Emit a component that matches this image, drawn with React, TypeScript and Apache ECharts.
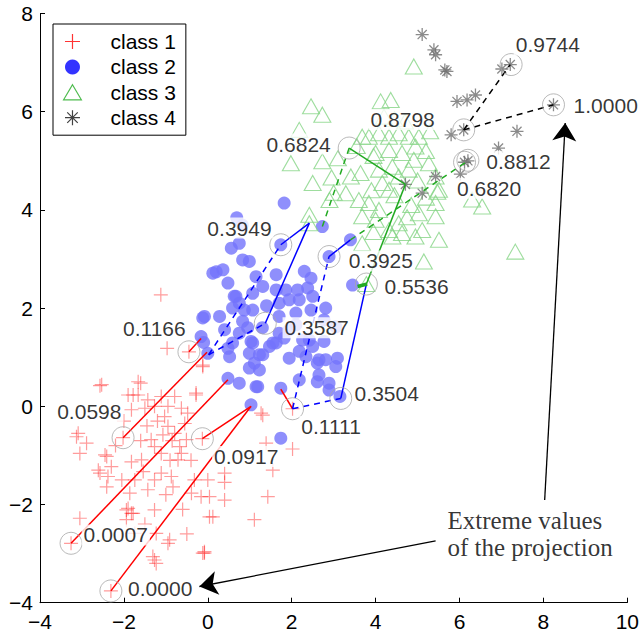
import React, { useEffect, useRef } from 'react';
import * as echarts from 'echarts';

// ---------- data ----------
const class1: number[][] = [
  [-1.12, 2.27], [-0.97, 1.18], [-0.45, 1.11], [-0.12, 0.84], [-2.53, 0.44], [-1.60, 0.47],
  [-1.90, 0.23], [-1.78, 0.23], [-1.66, 0.23], [-1.43, 0.13], [-1.11, 0.20], [-0.79, 0.20],
  [-0.28, 0.23], [-1.82, -0.07], [-1.50, -0.04], [-1.27, 0.0], [-0.95, 0.0], [-0.63, -0.04],
  [-0.48, -0.14], [-3.09, -0.55], [-2.89, -0.75], [-3.05, -0.96], [-2.45, -0.99], [-2.61, -1.30],
  [-2.30, -1.23], [-2.38, -1.43], [-1.82, -1.13], [-1.58, -1.09], [-1.35, -0.68], [-1.27, -0.82],
  [-1.11, -0.96], [-1.07, -0.58], [-0.95, -0.41], [-0.79, -0.55], [-0.67, -0.82], [-0.63, -0.96],
  [-0.71, -1.09], [-0.51, -0.68], [-1.74, -1.50], [-1.54, -1.33], [-1.27, -1.50], [-1.11, -1.36],
  [-0.87, -1.43], [-0.83, -1.64], [-0.32, -1.50], [0.0, -1.50], [-0.39, -1.77], [-0.16, -1.84],
  [0.40, -1.36], [0.40, -1.91], [0.12, -2.25], [-1.43, -1.70], [-1.27, -2.11], [-1.94, -2.11],
  [-1.82, -2.18], [-1.94, -2.31], [-1.74, -2.59], [-1.23, -2.59], [-0.91, -2.72], [-1.27, -3.13],
  [-0.08, -2.96], [1.11, -2.31], [1.43, -1.84], [1.55, -1.30], [1.31, -0.18], [-3.05, -2.28],
  [-1.03, -0.21], [1.27, -0.14], [1.39, -0.75], [2.02, -0.87], [0.04, -1.84], [-0.12, -2.99],
  [-3.13, -0.62], [-2.57, -1.36], [-2.41, -1.02], [-2.41, -1.64], [-1.86, -1.77], [-1.90, -2.08],
  [-1.78, -2.18], [-0.95, -2.79], [-1.31, -3.06], [-1.23, -3.20], [-0.08, -2.99], [0.04, -2.25],
  [-2.57, 0.42], [-1.66, 0.50], [-0.28, 0.27], [-0.12, 0.81], [-2.31, -3.76], [-3.26, -2.79],
  [-2.02, -0.64], [-0.13, -0.66], [2.02, -0.05], [-1.20, -0.30], [-0.85, -0.70], [-0.55, -0.35],
  [-1.45, -0.40], [-0.90, -1.10], [-0.40, -1.10], [-2.00, -0.30], [-2.20, -0.80], [-1.60, -0.70],
  [-2.05, -1.50], [-1.00, -1.80], [-0.60, -2.10], [-1.50, -2.40], [-0.50, -2.60], [0.40, -1.55],
];

const class2: number[][] = [
  [1.82, 4.14], [2.73, 3.66], [3.40, 3.39], [2.89, 3.05], [1.74, 3.29], [3.45, 2.47], [0.56, 3.22],
  [0.75, 3.32], [0.83, 2.98], [0.99, 2.95], [0.20, 2.74], [0.36, 2.78], [0.48, 2.51], [1.15, 2.64],
  [1.63, 2.68], [1.31, 2.44], [1.63, 2.37], [1.86, 2.37], [2.14, 2.37], [2.46, 2.61], [2.38, 2.41],
  [1.07, 2.30], [0.67, 2.24], [0.75, 2.10], [0.87, 1.96], [1.07, 1.96], [0.59, 2.00], [1.70, 2.10],
  [1.94, 2.17], [2.18, 2.17], [2.50, 2.24], [2.10, 1.90], [2.46, 1.96], [2.81, 2.00], [2.77, 1.76],
  [3.05, 1.62], [1.70, 1.83], [2.10, 1.66], [-0.12, 1.80], [-0.16, 1.42], [-0.10, 1.30], [0.0, 1.08],
  [0.40, 1.56], [0.75, 1.49], [1.07, 1.29], [0.99, 1.08], [1.11, 0.88], [1.31, 1.05], [1.47, 1.22],
  [1.63, 1.29], [1.70, 1.49], [1.94, 1.56], [2.26, 1.35], [2.50, 1.22], [1.94, 0.98], [2.34, 1.01],
  [2.61, 0.88], [2.81, 0.95], [2.65, 0.64], [2.89, 0.47], [3.15, 0.20], [2.18, 0.54], [1.23, 0.74],
  [0.99, 0.78], [1.15, 0.40], [0.48, 0.57], [0.75, 0.47], [1.74, 0.37], [1.03, 0.03], [0.52, 1.01],
  [0.59, 1.29], [0.83, 1.73], [0.28, 1.83], [1.74, -0.65], [0.48, 1.18], [1.03, 1.32], [0.63, 2.24],
  [0.12, 2.71], [-0.08, 1.83], [1.82, 1.39], [1.55, 1.29], [2.18, 1.12], [2.42, 1.35], [2.77, 1.32],
  [3.09, 0.98], [2.65, 0.95], [3.05, 0.81], [2.61, 0.50], [2.89, 0.33], [1.23, 1.05], [1.19, 0.40],
  [0.69, 3.84], [0.82, 3.69], [1.40, 2.05], [2.30, 2.75], [1.30, 1.60], [0.95, 1.60],
];

const class3: number[][] = [
  [4.91, 6.92], [2.46, 6.11], [2.73, 5.94], [4.12, 6.21], [4.36, 6.24], [2.18, 5.63], [1.98, 4.95],
  [2.50, 4.55], [2.73, 4.99], [2.95, 4.66], [3.29, 4.34], [2.42, 3.90], [3.41, 4.68], [3.64, 4.75],
  [3.84, 5.49], [4.08, 5.56], [4.32, 5.49], [4.55, 5.56], [4.79, 5.49], [5.03, 5.49], [4.00, 5.16],
  [4.32, 5.22], [4.63, 5.16], [4.95, 5.29], [4.08, 4.82], [4.40, 4.88], [4.79, 4.82], [4.55, 4.68],
  [4.16, 4.55], [4.32, 4.41], [3.84, 4.14], [4.08, 4.00], [3.68, 3.87], [4.00, 3.80], [4.55, 3.73],
  [4.32, 3.59], [5.03, 3.93], [5.43, 3.87], [5.11, 3.59], [5.51, 3.39], [4.40, 3.46], [4.63, 3.53],
  [4.95, 3.46], [6.30, 4.21], [6.54, 4.07], [7.33, 3.15], [5.27, 4.95], [5.43, 4.68], [5.51, 4.41],
  [5.43, 4.14], [4.91, 5.02], [5.47, 4.37], [3.68, 5.49], [2.42, 3.73], [3.78, 2.49], [3.68, 3.32],
  [5.15, 2.95], [3.60, 4.20], [3.00, 4.35], [4.20, 5.90], [4.45, 5.85], [4.70, 5.80], [3.95, 5.10],
  [4.45, 4.30], [4.85, 4.10], [3.90, 4.40], [5.00, 4.60], [5.20, 5.20], [5.30, 5.60], [3.55, 5.30],
  [3.10, 5.05], [2.90, 4.20], [3.95, 3.55], [4.75, 3.85], [5.20, 4.25],
];

const class4: number[][] = [
  [5.11, 7.57], [5.39, 7.26], [5.43, 7.16], [5.70, 6.82], [5.65, 6.85], [5.94, 6.21], [6.18, 6.24],
  [6.38, 6.34], [5.80, 5.53], [6.10, 5.63], [7.37, 5.60], [6.93, 5.26], [6.20, 5.00], [6.02, 4.73],
  [5.43, 4.68], [5.11, 4.34], [4.71, 4.52], [7.21, 6.96], [7.01, 6.87], [8.24, 6.14], [6.12, 4.97],
];

// highlighted (circled) points
const circled: number[][] = [
  [-2.31, -3.76], [-3.26, -2.79], [-2.02, -0.64], [-0.13, -0.66], [-0.45, 1.11], [2.02, -0.05],
  [3.17, 0.16], [1.37, 1.69], [1.74, 3.29], [2.89, 3.05], [3.78, 2.49], [3.37, 5.26], [6.12, 4.97],
  [6.20, 5.01], [7.23, 6.96], [8.24, 6.14], [6.10, 5.63],
];

// value labels: anchor of text (left edge, middle) and text
const labelTexts = ['0.0000', '0.0007', '0.0598', '0.0917', '0.1166', '0.1111', '0.3504', '0.3587',
  '0.3949', '0.3925', '0.5536', '0.6824', '0.8798', '0.8812', '0.6820', '0.9744', '1.0000'];
const labelPos: number[][] = [
  [-1.96, -3.72], [-3.02, -2.62], [-3.65, -0.11], [0.09, -1.02], [-2.08, 1.59], [2.17, -0.41],
  [3.44, 0.27], [1.77, 1.60], [-0.07, 3.63], [3.30, 2.96], [4.15, 2.45], [1.34, 5.34], [3.82, 5.84],
  [6.58, 4.99], [5.88, 4.44], [7.28, 7.36], [8.66, 6.12],
];

// segments [x1, y1, x2, y2]
const redSolid: number[][] = [
  [-2.31, -3.76, 1.03, 0.0], [-0.13, -0.66, 1.03, 0.0], [-3.26, -2.79, 0.48, 0.54],
  [-2.02, -0.64, -0.02, 1.10], [-0.45, 1.11, -0.16, 1.38], [2.02, -0.05, 1.74, 0.35],
];
const blueSolid: number[][] = [
  [3.17, 0.16, 3.78, 2.49], [1.37, 1.69, 2.42, 3.73], [1.74, 3.29, 2.42, 3.73], [2.89, 3.05, 3.40, 3.39],
];
const blueDashed: number[][] = [
  [0.02, 1.05, 1.74, 3.29], [0.02, 1.05, 1.37, 1.69], [2.02, -0.05, 2.89, 3.05], [2.02, -0.05, 3.17, 0.16],
];
const greenSolid: number[][] = [
  [3.37, 5.26, 4.71, 4.52], [4.71, 4.52, 3.78, 2.49],
];
const greenThick: number[][] = [[3.57, 2.44, 3.80, 2.49]];
const greenDashed: number[][] = [
  [3.37, 5.26, 2.73, 3.66], [3.40, 3.39, 6.20, 5.00],
];
const blackDashed: number[][] = [
  [6.10, 5.63, 7.21, 6.96], [6.10, 5.63, 8.24, 6.14],
];
const arrows: number[][] = [
  [8.03, -1.91, 8.52, 5.77], [5.43, -2.74, -0.20, -3.67],
];
const noteText = 'Extreme values\nof the projection';
const notePos: number[] = [5.70, -2.61];

const xTicks = { min: -4, max: 10, interval: 2 };
const yTicks = { min: -4, max: 8, interval: 2 };

// ---------- styling ----------
const FONT = '"Liberation Sans", Arial, Helvetica, sans-serif';
const plusPath = 'path://M0,-6L0,6M-6,0L6,0';
const starPath = 'path://M0,-6L0,6M-6,0L6,0M-4.2,-4.2L4.2,4.2M-4.2,4.2L4.2,-4.2';
const triPath = 'path://M0,-7L8,6.5L-8,6.5Z';

const segData = (segs: number[][]) =>
  segs.map((s) => ({ coords: [[s[0], s[1]], [s[2], s[3]]] }));

const lineSeries = (segs: number[][], color: string, type: any, width = 1.5, z = 3): any => ({
  type: 'lines',
  coordinateSystem: 'cartesian2d',
  data: segData(segs),
  lineStyle: { color, width, type, opacity: 1 },
  symbol: ['none', 'none'],
  silent: true,
  z,
});

export default function App() {
  const ref = useRef<HTMLDivElement>(null);
  useEffect(() => {
    if (!ref.current) return;
    const chart = echarts.init(ref.current, undefined, { renderer: 'svg' });
    const minus = (v: number) => String(v).replace('-', '\u2212');
    const axisCommon = {
      axisLine: { show: true, onZero: false, lineStyle: { color: '#000', width: 1 } },
      axisTick: { show: true, inside: true, length: 5, lineStyle: { color: '#000' } },
      splitLine: { show: false },
      axisLabel: { color: '#000', fontSize: 21, fontFamily: FONT, formatter: minus },
    };
    chart.setOption({
      animation: false,
      backgroundColor: '#fff',
      grid: { left: 40, right: 12, top: 13.5, bottom: 31.3, containLabel: false },
      xAxis: {
        type: 'value', ...xTicks, ...axisCommon,
        axisLabel: { ...axisCommon.axisLabel, margin: 8 },
      },
      yAxis: {
        type: 'value', ...yTicks, ...axisCommon,
        axisLabel: { ...axisCommon.axisLabel, margin: 7 },
      },
      legend: {
        orient: 'vertical',
        left: 53,
        top: 24,
        padding: [7, 10, 7, 10],
        itemGap: 4.4,
        itemWidth: 66,
        itemHeight: 15,
        borderColor: '#000',
        borderWidth: 1,
        backgroundColor: '#fff',
        textStyle: { fontSize: 21, fontFamily: FONT, color: '#000' },
        selectedMode: false,
        data: [
          { name: 'class 1', icon: plusPath, itemStyle: { color: 'transparent', borderColor: '#ff0000', borderWidth: 1.2 } },
          { name: 'class 2', icon: 'circle', itemStyle: { color: '#0000ff', borderWidth: 0 } },
          { name: 'class 3', icon: triPath, itemStyle: { color: 'transparent', borderColor: '#22aa22', borderWidth: 1.2 } },
          { name: 'class 4', icon: starPath, itemStyle: { color: 'transparent', borderColor: '#111', borderWidth: 1.2 } },
        ],
      },
      series: [
        {
          name: 'class 1', type: 'scatter', data: class1, symbol: plusPath, symbolSize: 14,
          itemStyle: { color: 'transparent', borderColor: 'rgba(255,30,30,0.55)', borderWidth: 1.2 }, z: 2, silent: true,
        },
        {
          name: 'class 2', type: 'scatter', data: class2, symbol: 'circle', symbolSize: 13,
          itemStyle: { color: '#7373fb', borderWidth: 0 }, z: 2, silent: true,
        },
        {
          name: 'class 3', type: 'scatter', data: class3, symbol: 'triangle', symbolSize: [17, 15],
          itemStyle: { color: 'transparent', borderColor: '#86d586', borderWidth: 1.1 }, z: 2, silent: true,
        },
        {
          name: 'class 4', type: 'scatter', data: class4, symbol: starPath, symbolSize: 13,
          itemStyle: { color: 'transparent', borderColor: '#6e6e6e', borderWidth: 1.3 }, z: 2, silent: true,
        },
        lineSeries(redSolid, '#ff0000', 'solid'),
        lineSeries(blueSolid, '#0000ff', 'solid'),
        lineSeries(blueDashed, '#0000ff', [6, 5]),
        lineSeries(greenSolid, '#22aa22', 'solid'),
        lineSeries(greenThick, '#22aa22', 'solid', 3.5),
        lineSeries(greenDashed, '#22aa22', [6, 5]),
        lineSeries(blackDashed, '#000000', [6, 5]),
        {
          type: 'scatter', data: circled, symbol: 'circle', symbolSize: 22, silent: true,
          itemStyle: { color: 'transparent', borderColor: '#a8a8a8', borderWidth: 1 }, z: 4,
        },
        {
          type: 'lines', coordinateSystem: 'cartesian2d', data: segData(arrows), silent: true,
          symbol: ['none', 'arrow'], symbolSize: 18,
          lineStyle: { color: '#000', width: 1.3, opacity: 1 }, z: 5,
        },
        {
          type: 'scatter', silent: true, z: 6, symbolSize: 1,
          itemStyle: { color: 'transparent' },
          data: labelPos.map((p, i) => ({ value: p, name: labelTexts[i] })),
          label: {
            show: true, position: 'right', distance: 0, formatter: '{b}',
            color: '#000', fontSize: 21, fontFamily: FONT,
            backgroundColor: '#fff', padding: [0, 2, 0, 2],
          },
        },
        {
          type: 'scatter', silent: true, z: 6, symbolSize: 1,
          itemStyle: { color: 'transparent' },
          data: [{ value: notePos, name: noteText }],
          label: {
            show: true, position: 'right', distance: 0, formatter: '{b}',
            color: '#000', fontSize: 25, lineHeight: 27,
            fontFamily: '"Liberation Serif", "Times New Roman", serif',
          },
        },
      ],
    });
    return () => chart.dispose();
  }, []);
  return (
    <div
      ref={ref}
      style={{ position: 'fixed', left: 0, top: 0, width: 642, height: 634 }}
    />
  );
}
